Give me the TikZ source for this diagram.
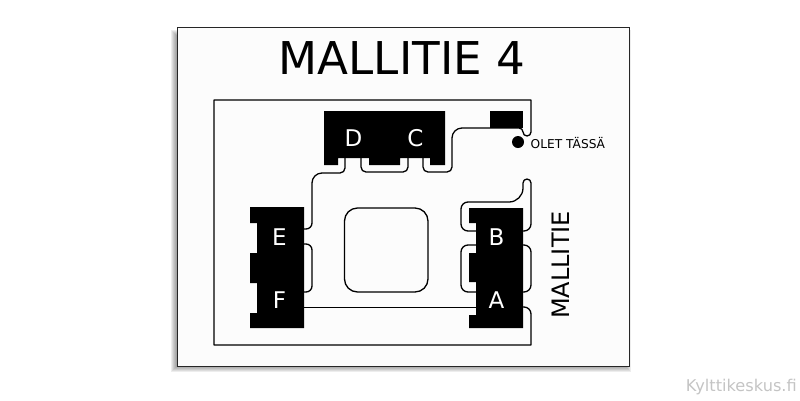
\documentclass[tikz,border=0pt]{standalone}
\usepackage{fontspec}
\setmainfont{DejaVu Sans}
\definecolor{signface}{HTML}{FCFCFC}
\definecolor{markgray}{HTML}{C4C4C4}
\tikzset{
	wall/.style={draw=black,line width=1.3pt,line join=round},
	block/.style={fill=black},
	roomlabel/.style={text=white,font=\fontsize{23}{23}\selectfont,inner sep=0pt},
}

\begin{document}
\begin{tikzpicture}[x=1pt,y=-1pt]
	\useasboundingbox (0,0) rectangle (800,400);
	\foreach \d in {0,1,...,6} \fill[black,opacity=.07] ({171+\d},{30+\d}) rectangle ({631-\d},{372-\d});
	\draw[fill=signface,draw=black!85,line width=1pt] (177,27) rectangle (629,366);

	% walls
	\draw[wall] (523,307) [rounded corners=7pt] -- (531,307) [sharp corners] -- (531,345) -- (214,345) -- (214,100) -- (531,100)
		[rounded corners=4pt] -- (531,136) -- (523,136) -- (523,128) [rounded corners=10pt] -- (452,128) [rounded corners=5pt] -- (452,172) -- (423,172) -- (423,158);
	\draw[wall,rounded corners=5pt] (408,158) -- (408,172) -- (361,172) -- (361,158);
	\draw[wall] (345,158) [rounded corners=5pt] -- (345,173) [rounded corners=10pt] -- (312,173) [rounded corners=6pt] -- (312,229) -- (304,229);
	\draw[wall,rounded corners=6pt] (304,244) -- (312,244) -- (312,292) -- (304,292);
	\draw[wall] (304,307.5) -- (476,307.5);
	\draw[wall,rounded corners=13pt] (344.5,208) rectangle (428,292);
	\draw[wall,rounded corners=7pt] (476,245) -- (461,245) -- (461,292) -- (476,292);
	\draw[wall,rounded corners=7pt] (523,245) -- (531,245) -- (531,292) -- (523,292);
	\draw[wall] (476,231) [rounded corners=7pt] -- (461,231) -- (461,202) [rounded corners=14pt] -- (523,202) [rounded corners=4pt] -- (523,179) -- (531,179) [rounded corners=7pt] -- (531,231) -- (523,231);

	% racks
	\fill[block] (324,111) -- (445,111) -- (445,165) -- (430,165) -- (430,158) -- (400,158) -- (400,165) -- (369,165) -- (369,158) -- (338,158) -- (338,165) -- (324,165) -- cycle;
	\fill[block] (490,111) rectangle (523,128);
	\fill[block] (250,207) -- (304,207) -- (304,328) -- (250,328) -- (250,313) -- (257,313) -- (257,283) -- (250,283) -- (250,253) -- (257,253) -- (257,223) -- (250,223) -- cycle;
	\fill[block] (469,208) -- (523,208) -- (523,328) -- (469,328) -- (469,315) -- (476,315) -- (476,282) -- (469,282) -- (469,253) -- (476,253) -- (476,223) -- (469,223) -- cycle;
	\fill (518,142) circle (6);

	\foreach \name/\x/\y in {D/353.5/138, C/415.5/138, E/279.5/237, F/279.5/300, B/496.5/237, A/496.5/300}
		\node[roomlabel] (label\name) at (\x,\y) {\name};

	\node[font=\fontsize{45.2}{46}\selectfont,inner sep=0pt] (title) at (402,58) {MALLITIE 4};
	\node[font=\fontsize{24}{24}\selectfont,inner sep=0pt,rotate=90] (lineName) at (560.5,265) {MALLITIE};
	\node[font=\fontsize{12.2}{13}\selectfont,inner sep=0pt,anchor=west] (here) at (530.5,143) {OLET TÄSSÄ};
	\node[font=\fontsize{16.2}{17}\selectfont,inner sep=0pt,text=markgray,anchor=east] (brand) at (797,387) {Kylttikeskus.fi};
\end{tikzpicture}
\end{document}
